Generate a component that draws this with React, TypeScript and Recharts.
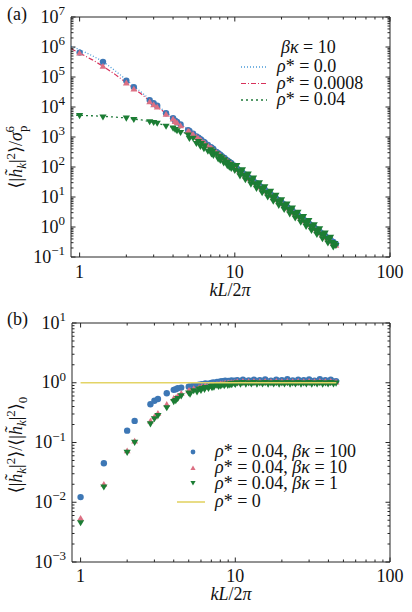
import React from 'react';
import { ScatterChart, Scatter, XAxis, YAxis } from 'recharts';

const FONT = '"Liberation Serif", "DejaVu Serif", serif';
const AXIS = '#262626';
const BLUE_PT = '#3d77b5';
const RED_PT = '#dc7083';
const GREEN_PT = '#1c7d34';
const BLUE_LINE = '#4a9ad8';
const RED_LINE = '#d7315a';
const GREEN_LINE = '#1f7a3a';
const YELLOW = '#e3d466';

// kL/2pi of the sampled modes
const kSmall = [1, 1.414, 2, 2.236, 2.828, 3, 3.162, 3.606, 4, 4.123, 4.243, 4.472, 5, 5.099, 5.385, 5.657, 5.831, 6, 6.083, 6.325,
  6.403, 6.708, 7, 7.071, 7.211, 7.28, 7.616, 7.81, 8, 8.062, 8.246, 8.485, 8.602, 8.944, 9, 9.22, 9.434, 9.487, 9.849, 10];
const kLarge = [10.3, 10.8, 11.2, 11.7, 12.2, 12.7, 13.2, 13.8, 14.4, 15, 15.6, 16.3, 17, 17.7, 18.4, 19.2, 20, 20.8, 21.7, 22.6,
  23.5, 24.5, 25.5, 26.6, 27.7, 28.8, 30, 31.2, 32.5, 33.8, 35.2, 36.7, 38.2, 39.8, 41.4, 43.1, 44.8];
const kAll = [...kSmall, ...kLarge];
// further modes where the (a) rho* = 0.04 band is densest
const kExtra = [10.55, 11.0, 11.45, 11.95, 12.45, 12.95, 13.5, 14.1, 14.7, 15.3, 15.95, 16.65, 17.35, 18.05, 18.8, 19.6, 20.4, 21.25,
  22.15, 23.05, 24.0, 25.0, 26.05, 27.15, 28.25, 29.4, 30.6, 31.85, 33.15, 34.5, 35.95, 37.45, 39.0, 40.6, 42.25, 43.95];

// (a) spectrum, beta kappa = 10
const specRho0 = [650000, 320000, 75000, 46000, 17000, 13500, 11000, 6200, 4200, 3500, 3200, 2600, 1700, 1600, 1300, 1050, 950, 850, 800, 690,
  650, 540, 460, 440, 410, 390, 320, 290, 260, 250, 230, 205, 195, 165, 160, 148, 136, 132, 112, 104,
  90, 75, 65, 55, 46, 40, 34, 28.6, 24, 20.4, 17.5, 14.7, 12.4, 10.6, 9.1, 7.7, 6.6, 5.6, 4.7, 4.0,
  3.5, 2.9, 2.5, 2.1, 1.8, 1.55, 1.32, 1.13, 0.96, 0.83, 0.7, 0.6, 0.5, 0.43, 0.37, 0.32, 0.27];
const specRho0008 = [630000, 230000, 64000, 40000, 15000, 12000, 10000, 5800, 4000, 3300, 3000, 2400, 1600, 1500, 1230, 1000, 900, 800, 760, 650,
  620, 510, 440, 420, 390, 370, 305, 275, 250, 240, 220, 195, 186, 158, 153, 141, 130, 126, 107, 99,
  82, 68, 59, 50, 42, 36, 31, 26, 21.8, 18.5, 15.9, 13.4, 11.3, 9.6, 8.3, 7.0, 5.96, 5.1, 4.3, 3.67,
  3.15, 2.67, 2.28, 1.93, 1.64, 1.41, 1.2, 1.03, 0.875, 0.75, 0.64, 0.54, 0.46, 0.39, 0.336, 0.287, 0.246];
const specRho04 = [5100, 4600, 4200, 3800, 3200, 3000, 2850, 2250, 1950, 1750, 1600, 1400, 1150, 880, 900, 600, 700, 480, 600, 400,
  500, 330, 370, 270, 330, 240, 270, 185, 225, 165, 200, 135, 172, 110, 145, 98, 122, 88, 104, 76,
  111, 50, 80, 37, 57, 26.6, 42, 19.2, 29.4, 13.7, 21.5, 9.9, 15.3, 7.1, 11.2, 5.2, 8.0, 3.8, 5.8, 2.7,
  4.25, 1.98, 3.08, 1.43, 2.21, 1.04, 1.62, 0.76, 1.18, 0.555, 0.86, 0.4, 0.62, 0.29, 0.45, 0.212, 0.24];
const specRho04Extra = [72, 66, 52, 48, 37, 35, 27, 25, 19.4, 18, 14, 13, 10, 9.3, 7.3, 6.7, 5.3, 4.9,
  3.85, 3.55, 2.8, 2.6, 2.03, 1.86, 1.47, 1.36, 1.07, 0.99, 0.78, 0.72, 0.57, 0.52, 0.41, 0.38, 0.3, 0.275];

// (a) theory curves
const kFit = [0.88, 1, 1.2, 1.414, 1.7, 2, 2.5, 3, 4, 5, 7, 10, 15, 20, 30, 45];
const fitRho0 = [1050000, 820000, 520000, 330000, 160000, 80000, 31000, 14000, 4300, 1750, 450, 100, 20, 6.3, 1.25, 0.25];
const fitRho0008 = [880000, 630000, 380000, 230000, 120000, 65000, 27000, 12500, 4100, 1700, 440, 98, 19.5, 6.2, 1.22, 0.24];
const fitRho04 = [5400, 5300, 5100, 4900, 4600, 4300, 3700, 3100, 2100, 1200, 400, 95, 19, 6.1, 1.2, 0.24];

// (b) ratio to rho* = 0
const ratioBk100 = [0.0122, 0.045, 0.158, 0.23, 0.436, 0.5, 0.536, 0.667, 0.76, 0.78, 0.81, 0.83, 0.86, 0.87, 0.9, 0.91, 0.93, 0.92, 0.95, 0.94,
  0.97, 0.96, 0.99, 0.97, 1.01, 0.98, 1.03, 1.0, 1.05, 1.01, 1.06, 1.02, 1.08, 1.02, 1.07, 1.03, 1.09, 1.03, 1.08, 1.04,
  1.1, 1.03, 1.12, 1.04, 1.09, 1.02, 1.13, 1.05, 1.1, 1.03, 1.14, 1.04, 1.08, 1.02, 1.12, 1.05, 1.1, 1.03, 1.15, 1.04,
  1.09, 1.02, 1.13, 1.05, 1.1, 1.03, 1.14, 1.04, 1.08, 1.03, 1.15, 1.04, 1.1, 1.02, 1.13, 1.04, 1.06];
const ratioBk10 = [0.0054, 0.02, 0.073, 0.106, 0.23, 0.27, 0.31, 0.436, 0.55, 0.56, 0.6, 0.67, 0.74, 0.75, 0.8, 0.79, 0.84, 0.83, 0.87, 0.85,
  0.89, 0.88, 0.92, 0.9, 0.93, 0.91, 0.95, 0.93, 0.96, 0.95, 0.97, 0.96, 0.99, 0.97, 1.0, 0.98, 1.01, 0.99, 1.02, 1.0,
  1.05, 1.0, 1.06, 1.01, 1.05, 1.0, 1.06, 1.01, 1.05, 1.0, 1.06, 1.01, 1.05, 1.0, 1.06, 1.01, 1.05, 1.0, 1.06, 1.01,
  1.05, 1.0, 1.06, 1.01, 1.05, 1.0, 1.06, 1.01, 1.05, 1.0, 1.06, 1.01, 1.05, 1.0, 1.06, 1.01, 1.03];
const ratioBk1 = [0.0045, 0.0179, 0.068, 0.1, 0.204, 0.248, 0.28, 0.38, 0.48, 0.5, 0.54, 0.6, 0.67, 0.64, 0.73, 0.7, 0.78, 0.74, 0.8, 0.77,
  0.83, 0.8, 0.86, 0.82, 0.88, 0.84, 0.9, 0.86, 0.91, 0.88, 0.93, 0.89, 0.94, 0.9, 0.95, 0.91, 0.96, 0.92, 0.97, 0.93,
  0.99, 0.94, 1.0, 0.94, 0.99, 0.95, 1.0, 0.94, 0.99, 0.95, 1.0, 0.94, 0.99, 0.95, 1.0, 0.94, 0.99, 0.95, 1.0, 0.94,
  0.99, 0.95, 1.0, 0.94, 0.99, 0.95, 1.0, 0.94, 0.99, 0.95, 1.0, 0.94, 0.99, 0.95, 1.0, 0.95, 0.98];
const kRef = [1, 45];
const ratioRef = [1, 1];

// axis ticks
const xDomain = [0.88, 100];
const xMajor = [1, 10, 100];
const yMajorA = [0.1, 1, 10, 100, 1e3, 1e4, 1e5, 1e6, 1e7];
const yMajorB = [0.001, 0.01, 0.1, 1, 10];
const minorSteps = [2, 3, 4, 5, 6, 7, 8, 9];
const withMinor = (majors: number[]) => [...majors, ...majors.slice(0, -1).flatMap((d) => minorSteps.map((m) => m * d))].sort((a, b) => a - b);

const pts = (ks: number[], vs: number[]) => ks.map((k, i) => ({ k, v: vs[i] }));

const Dot = (color: string) => (p: any) => <circle cx={p.cx} cy={p.cy} r={3.2} fill={color} />;
const Up = (color: string) => (p: any) => (
  <polygon points={`${p.cx - 3.4},${p.cy + 2.6} ${p.cx + 3.4},${p.cy + 2.6} ${p.cx},${p.cy - 3.2}`} fill={color} />
);
const Down = (color: string) => (p: any) => (
  <polygon points={`${p.cx - 3.6},${p.cy - 2.7} ${p.cx + 3.6},${p.cy - 2.7} ${p.cx},${p.cy + 3.4}`} fill={color} />
);
const NoShape = () => <g />;

function Tick(props: any) {
  const { x, y, payload, side, majors, dy } = props;
  const v = payload.value;
  const major = majors.some((m: number) => Math.abs(v / m - 1) < 1e-6);
  const len = major ? 4.5 : 2.5;
  if (side === 'bottom') {
    return (
      <g>
        <line x1={x} x2={x} y1={y} y2={y - len} stroke={AXIS} />
        {major && (
          <text x={x} y={y + dy} textAnchor="middle" fontSize={18} fontFamily={FONT} fill="#111">{v}</text>
        )}
      </g>
    );
  }
  if (side === 'top') return <line x1={x} x2={x} y1={y} y2={y + len} stroke={AXIS} />;
  if (side === 'left') {
    const e = Math.round(Math.log10(v));
    return (
      <g>
        <line x1={x} x2={x + len} y1={y} y2={y} stroke={AXIS} />
        {major && (
          <text x={x - 6} y={y + 5.5} textAnchor="end" fontSize={18} fontFamily={FONT} fill="#111">
            <tspan>10</tspan>
            <tspan dy={-7.5} fontSize={13}>{e < 0 ? `\u2212${-e}` : `${e}`}</tspan>
          </text>
        )}
      </g>
    );
  }
  return <line x1={x} x2={x - len} y1={y} y2={y} stroke={AXIS} />;
}

const frameAxes = (yDomain: number[], yMajor: number[], xLabelDy: number) => {
  const xTicks = withMinor(xMajor);
  const yTicks = withMinor(yMajor);
  const common = { type: 'number' as const, scale: 'log' as const, allowDataOverflow: true, interval: 0 as const, tickSize: 0, tickMargin: 0, tickLine: false, axisLine: { stroke: AXIS, strokeWidth: 1 } };
  return [
    <XAxis key="xb" xAxisId="b" dataKey="k" domain={xDomain} ticks={xTicks} height={1} {...common}
      tick={(p: any) => <Tick {...p} side="bottom" majors={xMajor} dy={xLabelDy} />} />,
    <XAxis key="xt" xAxisId="t" orientation="top" dataKey="k" domain={xDomain} ticks={xTicks} height={1} {...common}
      tick={(p: any) => <Tick {...p} side="top" majors={xMajor} />} />,
    <YAxis key="yl" yAxisId="l" dataKey="v" domain={yDomain} ticks={yTicks} width={1} {...common}
      tick={(p: any) => <Tick {...p} side="left" majors={yMajor} />} />,
    <YAxis key="yr" yAxisId="r" orientation="right" dataKey="v" domain={yDomain} ticks={yTicks} width={1} {...common}
      tick={(p: any) => <Tick {...p} side="right" majors={yMajor} />} />,
  ];
};

const T = { fontFamily: FONT, fontSize: 18, fill: '#111' };
const Rho = () => <tspan fontStyle="italic">ρ</tspan>;
const BK = () => <tspan fontStyle="italic">βκ</tspan>;
const HK = () => (
  <>
    <tspan>⟨|</tspan>
    <tspan fontStyle="italic">h{'\u0303'}</tspan>
    <tspan fontStyle="italic" fontSize={13} dy={4}>k</tspan>
    <tspan dy={-4}>|</tspan>
    <tspan fontSize={13} dy={-7}>2</tspan>
    <tspan dy={7}>⟩</tspan>
  </>
);

export default function App() {
  return (
    <div style={{ position: 'absolute', left: 0, top: 0, width: 412, height: 612, background: '#fff' }}>
      <div style={{ position: 'absolute', left: 0, top: 0 }}>
        <ScatterChart width={412} height={300} margin={{ top: 16, right: 21, bottom: 42, left: 70 }}>
          {frameAxes([0.1, 1e7], yMajorA, 21)}
          <Scatter xAxisId="b" yAxisId="l" data={pts(kFit, fitRho0)} shape={NoShape} isAnimationActive={false}
            line={{ stroke: BLUE_LINE, strokeWidth: 1.3, strokeDasharray: '1 2' }} />
          <Scatter xAxisId="b" yAxisId="l" data={pts(kFit, fitRho0008)} shape={NoShape} isAnimationActive={false}
            line={{ stroke: RED_LINE, strokeWidth: 1.2, strokeDasharray: '5 2 1 2' }} />
          <Scatter xAxisId="b" yAxisId="l" data={pts(kFit, fitRho04)} shape={NoShape} isAnimationActive={false}
            line={{ stroke: GREEN_LINE, strokeWidth: 1.3, strokeDasharray: '2 3' }} />
          <Scatter xAxisId="b" yAxisId="l" data={pts(kAll, specRho0)} shape={Dot(BLUE_PT)} isAnimationActive={false} />
          <Scatter xAxisId="b" yAxisId="l" data={pts(kAll, specRho0008)} shape={Up(RED_PT)} isAnimationActive={false} />
          <Scatter xAxisId="b" yAxisId="l" data={pts(kAll, specRho04)} shape={Down(GREEN_PT)} isAnimationActive={false} />
          <Scatter xAxisId="b" yAxisId="l" data={pts(kExtra, specRho04Extra)} shape={Down(GREEN_PT)} isAnimationActive={false} />
        </ScatterChart>
      </div>
      <div style={{ position: 'absolute', left: 0, top: 300 }}>
        <ScatterChart width={412} height={312} margin={{ top: 22, right: 21, bottom: 49, left: 71 }}>
          {frameAxes([0.001, 10], yMajorB, 20)}
          <Scatter xAxisId="b" yAxisId="l" data={pts(kAll, ratioBk100)} shape={Dot(BLUE_PT)} isAnimationActive={false} />
          <Scatter xAxisId="b" yAxisId="l" data={pts(kAll, ratioBk10)} shape={Up(RED_PT)} isAnimationActive={false} />
          <Scatter xAxisId="b" yAxisId="l" data={pts(kAll, ratioBk1)} shape={Down(GREEN_PT)} isAnimationActive={false} />
          <Scatter xAxisId="b" yAxisId="l" data={pts(kRef, ratioRef)} shape={NoShape} isAnimationActive={false}
            line={{ stroke: YELLOW, strokeWidth: 1.6 }} />
        </ScatterChart>
      </div>
      <svg width={412} height={612} style={{ position: 'absolute', left: 0, top: 0, pointerEvents: 'none' }}>
        <text x={7} y={20} {...T}>(a)</text>
        <text x={7} y={325} {...T}>(b)</text>

        <text transform="translate(22,157) rotate(-90)" textAnchor="middle" {...T}>
          <HK />
          <tspan>/</tspan>
          <tspan fontStyle="italic">σ</tspan>
          <tspan fontSize={13} dy={5}>p</tspan>
          <tspan fontSize={13} dx={-7} dy={-13}>6</tspan>
        </text>
        <text transform="translate(22,445) rotate(-90)" textAnchor="middle" {...T}>
          <HK />
          <tspan>/</tspan>
          <HK />
          <tspan fontSize={13} dy={5}>0</tspan>
        </text>

        <text x={230} y={296} textAnchor="middle" {...T}>
          <tspan fontStyle="italic">kL</tspan><tspan>/2</tspan><tspan fontStyle="italic">π</tspan>
        </text>
        <text x={231} y={600} textAnchor="middle" {...T}>
          <tspan fontStyle="italic">kL</tspan><tspan>/2</tspan><tspan fontStyle="italic">π</tspan>
        </text>

        {/* legend (a) */}
        <text x={281} y={53} {...T}><BK /><tspan> = 10</tspan></text>
        <line x1={241} x2={267} y1={67} y2={67} stroke={BLUE_LINE} strokeWidth={1.3} strokeDasharray="1 2" />
        <line x1={241} x2={267} y1={83.5} y2={83.5} stroke={RED_LINE} strokeWidth={1.2} strokeDasharray="5 2 1 2" />
        <line x1={241} x2={267} y1={100} y2={100} stroke={GREEN_LINE} strokeWidth={1.3} strokeDasharray="2 3" />
        <text x={277} y={72} {...T}><Rho /><tspan>* = 0.0</tspan></text>
        <text x={277} y={88.5} {...T}><Rho /><tspan>* = 0.0008</tspan></text>
        <text x={277} y={105} {...T}><Rho /><tspan>* = 0.04</tspan></text>

        {/* legend (b) */}
        <circle cx={193} cy={452} r={2.4} fill={BLUE_PT} />
        <polygon points="190.4,470 195.6,470 193,465.4" fill={RED_PT} />
        <polygon points="190.4,481 195.6,481 193,485.6" fill={GREEN_PT} />
        <line x1={177} x2={205} y1={502} y2={502} stroke={YELLOW} strokeWidth={1.6} />
        <text x={215} y={457} {...T}><Rho /><tspan>* = 0.04, </tspan><BK /><tspan> = 100</tspan></text>
        <text x={215} y={473} {...T}><Rho /><tspan>* = 0.04, </tspan><BK /><tspan> = 10</tspan></text>
        <text x={215} y={489} {...T}><Rho /><tspan>* = 0.04, </tspan><BK /><tspan> = 1</tspan></text>
        <text x={215} y={507} {...T}><Rho /><tspan>* = 0</tspan></text>
      </svg>
    </div>
  );
}
